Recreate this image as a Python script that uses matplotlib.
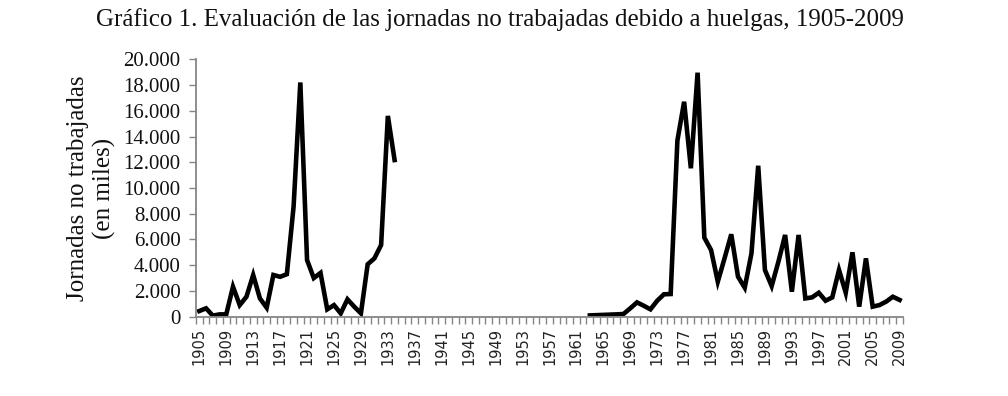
import numpy as np
import matplotlib
matplotlib.use("Agg")
import matplotlib.pyplot as plt
from matplotlib.ticker import FuncFormatter

# Jornadas no trabajadas (miles), 1905-2009; sin datos 1935-1962
years = list(range(1905, 2010))
early = [440, 650, 80, 180, 180, 2330, 900, 1550, 3240, 1420,
         700, 3240, 3100, 3300, 8550, 18200, 4400, 3000, 3400, 570,
         900, 260, 1350, 780, 260, 4070, 4530, 5570, 15600, 12170]
gap = [np.nan] * (1962 - 1935 + 1)
late = [100, 120, 140, 160, 180, 210, 650, 1110, 850, 570,
        1240, 1740, 1760, 13680, 16700, 11530, 18960, 6140, 5180, 2720,
        4530, 6400, 3110, 2250, 4920, 11730, 3630, 2380, 4270, 6350,
        1940, 6350, 1420, 1500, 1860, 1240, 1500, 3630, 1860, 5000,
        780, 4530, 780, 900, 1170, 1550, 1300]
values = np.array(early + gap + late, dtype=float)

label_years = years[::4]

GREY = "#868686"
SERIF = "Liberation Serif"

fig = plt.figure(figsize=(10.08, 3.96), dpi=100)
ax = fig.add_axes([0.1944, 0.2003, 0.7014, 0.650])

x = np.arange(len(years))
ax.plot(x, values, color="black", lw=3.3, solid_joinstyle="miter")

ax.set_xlim(-0.5, len(years) - 0.5)
ax.set_ylim(0, 20000)
ax.set_yticks(np.arange(0, 20001, 2000))
ax.yaxis.set_major_formatter(FuncFormatter(lambda v, _: f"{int(v):,}".replace(",", ".")))

ax.set_xticks(x[::4])
ax.set_xticklabels([str(y) for y in label_years], rotation=90,
                   fontsize=10.5, family="DejaVu Sans", color="#222222")
ax.set_xticks(np.arange(-0.5, len(years), 1), minor=True)
ax.tick_params(axis="x", which="major", length=0, pad=8)
ax.tick_params(axis="x", which="minor", length=5, width=1, color=GREY, direction="out")
ax.tick_params(axis="y", length=5, width=1, color=GREY, direction="out", pad=6)
for lab in ax.get_yticklabels():
    lab.set_family(SERIF)
    lab.set_fontsize(15)
    lab.set_color("#111111")

for s in ["top", "right"]:
    ax.spines[s].set_visible(False)
for s in ["left", "bottom"]:
    ax.spines[s].set_color(GREY)
    ax.spines[s].set_linewidth(1.3)

fig.text(0.091, 0.525, "Jornadas no trabajadas\n(en miles)", rotation=90,
         ha="center", va="center", multialignment="center",
         family=SERIF, fontsize=18, color="#111111", linespacing=1.25)

fig.text(0.496, 0.952,
         "Gráfico 1. Evaluación de las jornadas no trabajadas debido a huelgas, 1905-2009",
         ha="center", va="center", family=SERIF, fontsize=18, color="#111111")

fig.savefig("out.png", dpi=100)
